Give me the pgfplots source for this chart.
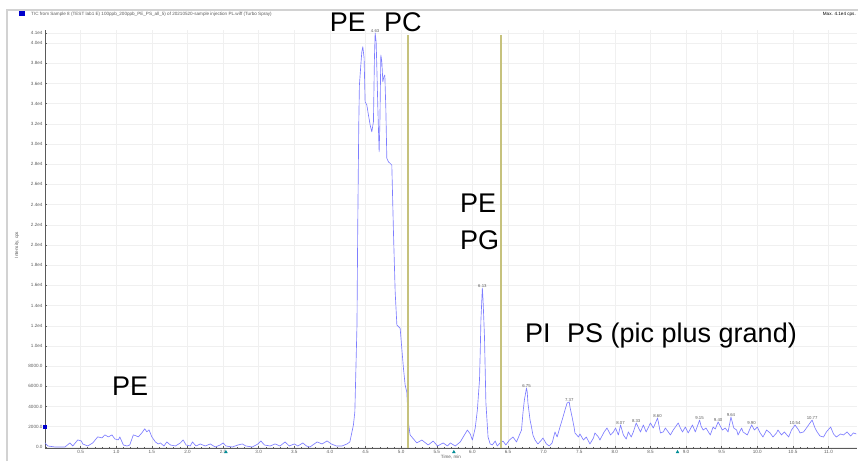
\documentclass[border=0pt]{standalone}
\usepackage{fontspec}
\setmainfont{Liberation Sans}
\usepackage{pgfplots}
\pgfplotsset{compat=1.18}
\definecolor{trace}{RGB}{125,125,255}
\definecolor{oliveline}{RGB}{198,194,125}
\definecolor{gridc}{RGB}{240,240,240}
\definecolor{markc}{RGB}{0,140,150}
\definecolor{tickc}{RGB}{90,90,90}
\begin{document}
\begin{tikzpicture}
\path[use as bounding box] (0,0) rectangle (858pt,461pt);
% window frame
\draw[gray!35, line width=1.2pt] (7pt,0) -- (7pt,451pt) -- (858pt,451pt);
% title line
\fill[blue!80!black] (19pt,444.5pt) rectangle (25pt,449.5pt);
\node[anchor=west, font=\fontsize{4.6}{5}\selectfont, text=tickc, inner sep=0pt] at (31pt,447pt)
  {TIC from Sample 8 (TEST lab1 E) 100ppb\_200ppb\_PE\_PS\_all\_5) of 20210520-sample injection PL.wiff (Turbo Spray)};
\node[anchor=east, font=\fontsize{4.6}{5}\selectfont, text=black, inner sep=0pt] at (856pt,447pt) {Max. 4.1e4 cps.};
% axis titles
\node[rotate=90, font=\fontsize{4.6}{5}\selectfont, text=tickc, inner sep=0pt] at (17pt,216pt) {Intensity, cps};
\node[font=\fontsize{4.6}{5}\selectfont, text=tickc, inner sep=0pt] at (451pt,4pt) {Time, min};

\begin{axis}[
  at={(45pt,13pt)}, anchor=south west,
  scale only axis, width=812pt, height=418pt,
  xmin=0, xmax=11.40, ymin=-100, ymax=41290,
  clip=false,
  scaled y ticks=false, scaled x ticks=false,
  axis x line*=bottom, axis y line*=left,
  axis line style={tickc, line width=0.7pt},
  /pgf/number format/assume math mode=true,
  xtick={0.5,1.0,...,11.0},
  minor x tick num=4,
  xticklabel style={/pgf/number format/fixed, /pgf/number format/fixed zerofill, /pgf/number format/precision=1, yshift=1pt},
  ytick={0,2000,4000,6000,8000,10000,12000,14000,16000,18000,20000,22000,24000,26000,28000,30000,32000,34000,36000,38000,40000,41000},
  yticklabels={0.0,2000.0,4000.0,6000.0,8000.0,1.0e4,1.2e4,1.4e4,1.6e4,1.8e4,2.0e4,2.2e4,2.4e4,2.6e4,2.8e4,3.0e4,3.2e4,3.4e4,3.6e4,3.8e4,4.0e4,4.1e4},
  minor y tick num=1,
  tick label style={font=\fontsize{4.6}{5}\selectfont, text=tickc},
  yticklabel style={xshift=1pt},
  major tick length=2.5pt, minor tick length=1.5pt,
  tick style={tickc, line width=0.5pt},
  ymajorgrids, yminorgrids, xmajorgrids,
  major grid style={gridc, line width=0.6pt},
  minor grid style={gridc, line width=0.6pt},
]
\addplot[trace, line width=0.65pt, line join=round] coordinates {
(0.00,400)(0.04,100)(0.14,0)(0.28,0)(0.35,400)(0.39,100)(0.46,700)(0.51,600)(0.53,300)(0.60,100)
(0.67,400)(0.74,1000)(0.80,900)(0.84,1200)(0.89,1000)(0.94,1200)(0.98,800)(1.03,700)(1.05,1000)(1.10,200)
(1.15,100)(1.19,200)(1.24,1200)(1.28,1100)(1.31,1000)(1.36,1400)(1.40,1800)(1.43,1500)(1.46,1700)(1.50,1000)
(1.55,500)(1.59,300)(1.62,400)(1.67,100)(1.71,500)(1.76,200)(1.83,100)(1.90,400)(1.94,700)(1.98,200)
(2.04,100)(2.07,500)(2.12,100)(2.18,300)(2.25,100)(2.32,300)(2.39,0)(2.46,200)(2.50,400)(2.54,100)
(2.63,0)(2.71,200)(2.77,300)(2.82,100)(2.91,0)(2.99,300)(3.03,600)(3.08,200)(3.16,100)(3.23,300)
(3.30,100)(3.37,500)(3.43,100)(3.50,300)(3.55,100)(3.62,400)(3.67,100)(3.72,0)(3.82,500)(3.89,300)
(3.96,600)(4.02,300)(4.09,100)(4.17,100)(4.24,300)(4.28,500)
(4.33,2180)(4.35,3490)(4.38,12080)(4.39,21310)(4.405,31880)(4.414,35840)(4.434,37820)(4.448,39130)(4.462,39630)(4.480,38510)
(4.494,34180)(4.518,33860)(4.541,32870)(4.565,31880)(4.588,31210)(4.611,32200)(4.625,38480)(4.635,41000)(4.649,40120)(4.659,37490)
(4.673,33530)(4.691,29230)(4.701,31880)(4.715,38810)(4.729,38150)(4.743,36160)(4.757,36660)(4.771,36830)(4.785,33530)(4.799,28580)
(4.822,28240)(4.869,27920)(4.892,21310)(4.916,15370)(4.940,12080)(4.986,11750)(5.032,7820)(5.056,6140)(5.080,5410)(5.100,2500)
(5.126,1190)
(5.15,990)(5.22,400)(5.29,690)(5.38,200)(5.45,590)(5.51,100)(5.59,400)(5.65,100)(5.69,400)(5.76,100)
(5.83,500)(5.88,1090)(5.93,1680)(5.97,1290)(6.00,690)(6.04,1880)(6.07,3660)(6.10,6630)(6.11,9300)(6.12,12570)
(6.14,15740)(6.15,14550)(6.17,10890)(6.18,7620)(6.19,4360)(6.22,990)(6.25,300)(6.28,200)(6.32,590)(6.35,100)
(6.39,400)(6.43,590)(6.47,200)(6.52,690)(6.57,990)(6.62,500)(6.66,1190)(6.69,1680)(6.71,3370)(6.73,4650)
(6.76,5840)(6.77,5450)(6.78,4360)(6.81,2670)(6.83,1980)(6.85,1190)(6.88,690)(6.92,300)(6.97,690)(6.99,890)
(7.04,300)(7.08,100)(7.12,400)(7.16,1490)(7.19,990)(7.23,1980)(7.26,2670)(7.30,3660)(7.33,4360)(7.36,4460)
(7.37,3960)(7.40,2970)(7.43,1880)(7.44,1390)(7.49,990)(7.51,1290)(7.56,690)(7.60,990)(7.65,300)(7.70,890)
(7.72,1390)(7.77,990)(7.79,690)(7.85,1490)(7.89,1880)(7.94,1190)(7.98,1490)(8.01,1880)(8.05,1190)(8.08,2180)
(8.12,1190)(8.16,790)(8.19,1490)(8.23,990)(8.26,1490)(8.30,2380)(8.36,1490)(8.40,2180)(8.44,1490)(8.50,2380)
(8.54,1880)(8.60,2870)(8.64,1390)(8.68,1490)(8.71,1880)(8.75,1490)(8.78,1190)(8.82,1680)(8.85,1980)(8.89,2380)
(8.92,1880)(8.95,1490)(8.99,1980)(9.03,1390)(9.09,2180)(9.13,1490)(9.19,2670)(9.21,2080)(9.24,1680)(9.28,1880)
(9.34,1190)(9.38,1980)(9.41,1780)(9.45,2480)(9.48,2080)(9.51,1680)(9.55,1880)(9.59,1490)(9.63,2970)(9.67,1880)
(9.71,1680)(9.73,1190)(9.78,1880)(9.80,1490)(9.86,1190)(9.92,2180)(9.96,1680)(10.00,1980)(10.04,1390)(10.08,990)
(10.13,1680)(10.18,1390)(10.22,990)(10.27,1390)(10.29,1680)(10.34,1190)(10.38,1490)(10.44,990)(10.48,1680)(10.53,2180)
(10.58,1680)(10.60,1390)(10.65,1490)(10.69,1880)(10.73,2280)(10.77,2670)(10.81,1880)(10.84,1490)(10.88,1090)(10.93,990)
(10.97,1490)(11.03,1980)(11.07,1290)(11.11,990)(11.17,1290)(11.21,1190)(11.26,1490)(11.31,1090)(11.35,1390)(11.39,1290)
};
% vertical marker lines
\addplot[oliveline, line width=1.8pt] coordinates {(5.10,-100) (5.10,40800)};
\addplot[oliveline, line width=1.8pt] coordinates {(6.40,-100) (6.40,40800)};
% small markers
\addplot[only marks, mark=square*, mark size=1.4pt, blue!80!black] coordinates {(0,2000)};
\addplot[only marks, mark=triangle*, mark size=1.6pt, markc] coordinates {(2.54,-500)(5.74,-500)(8.88,-500)};
% peak labels
\begin{scope}[every node/.style={above, inner sep=0.5pt, font=\fontsize{4.3}{5}\selectfont, text=tickc}]
\node at (axis cs:4.635,41000) {4.63};
\node at (axis cs:6.14,15740) {6.13};
\node at (axis cs:6.76,5840) {6.75};
\node at (axis cs:7.36,4460) {7.37};
\node at (axis cs:8.08,2180) {8.07};
\node at (axis cs:8.30,2380) {8.33};
\node at (axis cs:8.60,2870) {8.60};
\node at (axis cs:9.19,2670) {9.15};
\node at (axis cs:9.45,2480) {9.40};
\node at (axis cs:9.63,2970) {9.64};
\node at (axis cs:9.92,2180) {9.90};
\node at (axis cs:10.53,2180) {10.54};
\node at (axis cs:10.77,2670) {10.77};
\end{scope}
\end{axis}
% big annotations
\begin{scope}[every node/.style={font=\fontsize{27}{27}\selectfont, inner sep=0pt, text=black}]
\node[anchor=base east] at (366pt,429pt) {PE};
\node[anchor=base west] at (384pt,429pt) {PC};
\node[anchor=base west] at (460pt,248pt) {PE};
\node[anchor=base west] at (460pt,212pt) {PG};
\node[anchor=base west] at (525pt,119pt) {PI};
\node[anchor=base west] at (567pt,119pt) {PS (pic plus grand)};
\node[anchor=base west] at (112pt,66pt) {PE};
\end{scope}
\end{tikzpicture}
\end{document}
